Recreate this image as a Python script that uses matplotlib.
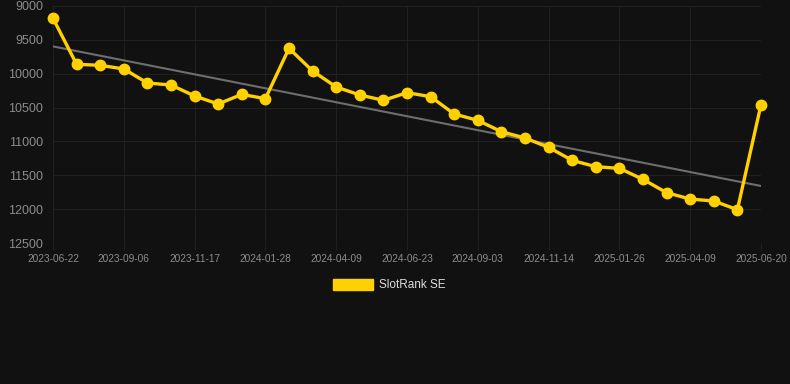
import matplotlib.pyplot as plt
import numpy as np

# rank values, one point per snapshot
rank = [9182, 9861, 9876, 9930, 10137, 10167, 10329, 10447, 10305, 10369,
        9625, 9960, 10196, 10314, 10393, 10280, 10339, 10595, 10689, 10856,
        10950, 11087, 11280, 11373, 11398, 11560, 11757, 11851, 11880, 12008,
        10457]
tick_labels = ["2023-06-22", "2023-09-06", "2023-11-17", "2024-01-28",
               "2024-04-09", "2024-06-23", "2024-09-03", "2024-11-14",
               "2025-01-26", "2025-04-09", "2025-06-20"]
y_ticks = [9000, 9500, 10000, 10500, 11000, 11500, 12000, 12500]
series_name = "SlotRank SE"

bg = "#111111"
yellow = "#FFD100"
plt.rcParams["font.family"] = ["Liberation Sans", "DejaVu Sans"]

x = np.arange(len(rank))
slope, icpt = np.polyfit(x, rank, 1)

fig = plt.figure(figsize=(7.9, 3.84), dpi=100, facecolor=bg)
ax = fig.add_axes([53 / 790, 1 - 243 / 384, (761 - 53) / 790, (243 - 6) / 384])
ax.set_facecolor(bg)

ax.plot(x, slope * x + icpt, color="#6e6e6e", lw=1.5, zorder=2)
ax.plot(x, rank, color=yellow, lw=2.4, marker="o", ms=7.5, zorder=3,
        clip_on=False)

ax.set_xlim(0, len(rank) - 1)
ax.set_ylim(12500, 9000)
ax.set_yticks(y_ticks)
ax.set_xticks(x[::3])
ax.set_xticklabels(tick_labels)
ax.grid(color="#202020", lw=0.8)
ax.tick_params(axis="y", colors="#8c8c8c", labelsize=9, length=0, pad=7)
ax.tick_params(axis="x", colors="#8c8c8c", labelsize=7.3, length=5,
               color="#202020", pad=3)
for s in ax.spines.values():
    s.set_visible(False)

# legend swatch + text
fig.patches.append(plt.Rectangle((333 / 790, 1 - 290 / 384), 40 / 790, 11 / 384,
                                 transform=fig.transFigure, color=yellow))
fig.text(379 / 790, 1 - 285 / 384, series_name, color="#dddddd", fontsize=8.5,
         va="center", ha="left")

fig.savefig("out.png", dpi=100, facecolor=bg)
